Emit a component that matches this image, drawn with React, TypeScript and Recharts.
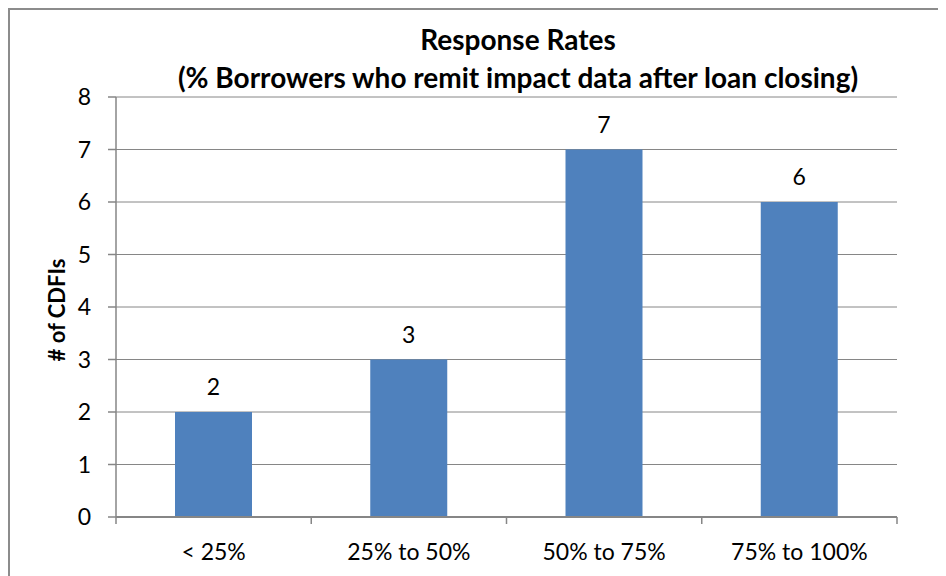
import { BarChart, Bar, XAxis, YAxis, CartesianGrid, LabelList } from "recharts"

const categories = ["< 25%", "25% to 50%", "50% to 75%", "75% to 100%"]
const counts = [2, 3, 7, 6]
const yTicks = [0, 1, 2, 3, 4, 5, 6, 7, 8]

const titleLine1 = "Response Rates"
const titleLine2 = "(% Borrowers who remit impact data after loan closing)"
const yLabel = "# of CDFIs"

const data = categories.map((c, i) => ({ name: c, value: counts[i] }))

const FONT = "Lato, 'Open Sans', sans-serif"
const GRID = "#868686"
const BAR = "#4f81bd"
const TICK_MARGIN = 27

function CategoryTick(props: any) {
  const { x, y, payload, width, visibleTicksCount, index } = props
  const band = width / visibleTicksCount
  const axisY = y - TICK_MARGIN
  const left = x - band / 2
  const right = x + band / 2
  return (
    <g>
      <line x1={left} x2={left} y1={axisY} y2={axisY + 7} stroke={GRID} strokeWidth={1.5} />
      {index === visibleTicksCount - 1 && (
        <line x1={right} x2={right} y1={axisY} y2={axisY + 7} stroke={GRID} strokeWidth={1.5} />
      )}
      <text x={x} y={y} dy="0.71em" textAnchor="middle" fill="#000" fontSize={23} fontFamily={FONT}>
        {payload.value}
      </text>
    </g>
  )
}

const titleStyle = {
  position: "absolute" as const,
  left: 508,
  transform: "translateX(-50%)",
  whiteSpace: "nowrap" as const,
  fontSize: 28,
  lineHeight: "32px",
  fontWeight: 700,
  color: "#000",
}

export default function App() {
  return (
    <div
      style={{
        position: "relative",
        width: 936,
        height: 566,
        borderLeft: "2px solid #8c8c8c",
        borderTop: "2px solid #8c8c8c",
        background: "#fff",
        fontFamily: FONT,
      }}
    >
      <div style={{ ...titleStyle, top: 13 }}>{titleLine1}</div>
      <div style={{ ...titleStyle, top: 51 }}>{titleLine2}</div>
      <BarChart
        width={936}
        height={566}
        data={data}
        margin={{ top: 87, right: 49, bottom: 9, left: 46 }}
      >
        <CartesianGrid horizontal vertical={false} stroke={GRID} strokeWidth={1} />
        <XAxis
          dataKey="name"
          height={50}
          axisLine={{ stroke: GRID, strokeWidth: 2 }}
          tickLine={false}
          tickSize={0}
          tickMargin={TICK_MARGIN}
          interval={0}
          tick={<CategoryTick />}
        />
        <YAxis
          domain={[0, 8]}
          ticks={yTicks}
          interval={0}
          width={60}
          axisLine={{ stroke: GRID, strokeWidth: 1.5 }}
          tickLine={{ stroke: GRID, strokeWidth: 1.5 }}
          tickSize={8}
          tickMargin={17}
          tick={{ fontSize: 23, fill: "#000", fontFamily: FONT }}
          label={{
            value: yLabel,
            angle: -90,
            position: "center",
            dx: -29,
            dy: 3,
            style: { fontSize: 22, fontWeight: 700, fill: "#000", fontFamily: FONT, textAnchor: "middle" },
          }}
        />
        <Bar dataKey="value" fill={BAR} barSize={77} isAnimationActive={false}>
          <LabelList
            dataKey="value"
            position="top"
            offset={17}
            style={{ fontSize: 23, fill: "#000", fontFamily: FONT }}
          />
        </Bar>
      </BarChart>
    </div>
  )
}
